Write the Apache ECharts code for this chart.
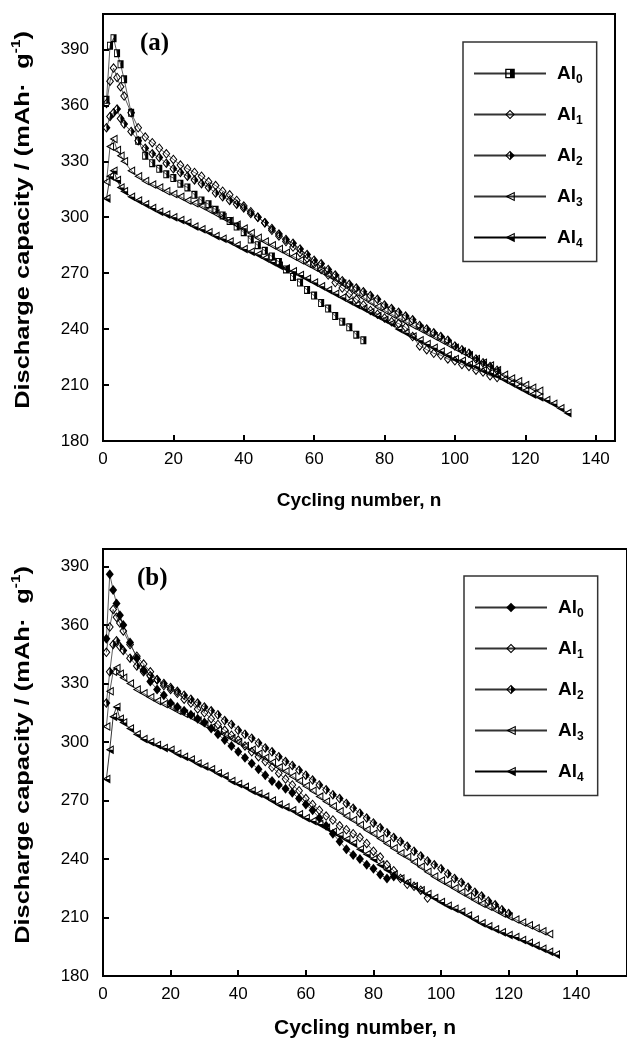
<!DOCTYPE html>
<html>
<head>
<meta charset="utf-8">
<script src="https://cdn.jsdelivr.net/npm/echarts@6/dist/echarts.min.js"></script>
<style>html,body{margin:0;padding:0;background:#fff;}#c{width:627px;height:1044px;}</style>
</head>
<body>
<div id="c"></div>
<script>
// ---- data ----
const cycles = [1,2,3,4,5,6,8,10,12,14,16,18,20,22,24,26,28,30,32,34,36,38,40,42,44,46,48,50,52,54,56,58,60,62,64,66,68,70,72,74,76,78,80,82,84,86,88,90,92,94,96,98,100,102,104,106,108,110,112,114,116,118,120,122,124,126,128,130,132,134];
const seriesNames = ['Al0','Al1','Al2','Al3','Al4'];
const yTicks = [180,210,240,270,300,330,360,390];
const xTicks = [0,20,40,60,80,100,120,140];

// panel (a)
const a_Al0 = [363,392,396,388,382,374,356,341,333,329,326,323,321,318,316,312,309,307,304,301,298,295,292,288,285,282,279,276,272,268,265,261,258,254,251,247,244,241,237,234];
const a_Al1 = [361,373,380,375,370,365,356,348,343,340,337,334,331,328,326,324,322,319,317,314,312,309,306,303,300,297,293,290,287,284,281,278,275,272,269,265,262,259,256,253,250,248,246,244,243,241,236,231,229,227,226,224,223,221,220,218,217,215,214];
const a_Al2 = [348,354,356,358,353,350,346,341,337,334,332,329,326,324,322,320,318,316,313,311,309,307,305,302,300,297,294,291,288,286,283,280,277,275,272,269,266,264,262,260,258,256,253,251,249,247,245,242,240,238,236,234,231,229,227,224,222,220,218];
const a_Al3 = [319,338,342,336,333,330,325,322,319.5,317.5,316,314,312.5,311,309,307.5,306,304,302,300,298,296,294,291.5,289,287,285,283,281,279,277,275,273,271,269,267,264.5,262,259.5,257,254.5,252,250,248,246,244,242,240,238,236,234,232,230,228,226,224,222,220.5,218,215.5,213.5,212,210,208.5,207];
const a_Al4 = [310,322,325,320,316,314,311,309,307,305,303,301.5,300,298.5,297,295,293.5,292,290,288.5,287,285,283,281.5,280,278,276,274,272.5,271,269,267,265,263,261,259,257,255,253,251,249,247,245,243,240,238,236,234,232,230,228,226,224,223,221,220,218,216.5,215,213,211,209,207,205,203.5,202,200,197.5,195];

// panel (b)
const b_Al0 = [353,386,378,371,365,360,351,343,337,331,327,324,320,318,316,314,312,310,307,304,301,298,295,292,289,286,283,280,278,276,274,271,268,265,261,257,253,249,245,242,240,237,235,232,230,231];
const b_Al1 = [346,359,368,364,361,357,350,344,340,336,332,329,327,325,322,320,317,315,312,309,306,303.5,301,298,295,292.5,290,287,284,281,278,275,271,268,265,262,260,257,255,253,251,248,244,241,237,234,230,227,226,224,220];
const b_Al2 = [320,336,350,352,349,347,343,339,336,334,332,330,328,326,324,322,320,318,316,314,311,309,306,304,302,299.5,297,295,292.5,290,288,285.5,283,280.5,278,275.5,273,271,268.5,266,263.5,261,258.5,256,253.5,251,249,246.5,244,241.5,239,237,235,232.5,230,228,225.5,223,221,218.5,216.5,214,212];
const b_Al3 = [308,326,336,338,335,333,330,327,325,323,321,319.5,318,316,314.5,313,311,309,307.5,306,304,302,300,298,296,294,292,289.5,287,285,282.5,280,277.5,275,272,269.5,267,264.5,262,260,257.5,255,253,250.5,248,245.5,243,241,238.5,236,233.5,231,229,227,225,223,221,219,217,215.5,214,212,210.5,209,207.5,206,204.5,203,201.5];
const b_Al4 = [281,296,313,318,312,310,307,304,301.5,300,298.5,297,296,294,292.5,291,289,287.5,286,284,282.5,280,278.5,277,275,273.5,272,270,268,266.5,265,263,261,259.5,258,256,254,252,250,248,245,242.5,240,237,234.5,232,230,228,226,224,222,220,218,216,214.5,213,211,209,207,205.5,204,202.5,201,200,198.5,197,195.5,194,192.5,191];

// ---- symbols ----
const SQ_HALF = 'path://M0 0L100 0L100 100L0 100Z M14 14L14 86L86 86L86 14Z M50 14L86 14L86 86L50 86Z';
const DIA_OPEN = 'path://M50 0L100 50L50 100L0 50Z M50 16L16 50L50 84L84 50Z';
const DIA_HALF = DIA_OPEN + ' M50 16L84 50L50 84Z';
const TRI_OPEN = 'path://M0 50L100 0L100 100Z M27 50L88 80.5L88 19.5Z';
const TRI_HALF = TRI_OPEN + ' M27 50L88 50L88 80.5Z';

function pts(vals){ return vals.map((v,i)=>[cycles[i], v]); }

const FONT = 'Liberation Sans';

function mkSeries(id, vals, gi, symbol, size, lineColor){
  return {
    type:'line', name:id, xAxisIndex:gi, yAxisIndex:gi,
    data:pts(vals), symbol:symbol, symbolSize:size,
    showSymbol:true, showAllSymbol:true,
    itemStyle:{color:'#000', borderWidth:0},
    lineStyle:{color:lineColor, width:0.8},
    emphasis:{disabled:true}, animation:false, silent:true
  };
}

const series = [
  mkSeries('a0', a_Al0, 0, SQ_HALF, [6,8], '#333'),
  mkSeries('a1', a_Al1, 0, DIA_OPEN, [8,10], '#333'),
  mkSeries('a2', a_Al2, 0, DIA_HALF, [8,10], '#333'),
  mkSeries('a3', a_Al3, 0, TRI_OPEN, [8,9], '#333'),
  mkSeries('a4', a_Al4, 0, TRI_HALF, [8,9], '#000'),
  mkSeries('b0', b_Al0, 1, 'diamond', [8,10], '#333'),
  mkSeries('b1', b_Al1, 1, DIA_OPEN, [8,10], '#333'),
  mkSeries('b2', b_Al2, 1, DIA_HALF, [8,10], '#333'),
  mkSeries('b3', b_Al3, 1, TRI_OPEN, [8,9], '#333'),
  mkSeries('b4', b_Al4, 1, TRI_HALF, [8,9], '#000')
];

function xAx(gi, max, nameSize, nameGap){
  return {
    type:'value', gridIndex:gi, min:0, max:max, interval:20,
    axisLine:{show:true, lineStyle:{color:'#000', width:2}},
    axisTick:{show:true, inside:true, length:6, lineStyle:{color:'#000', width:2}},
    axisLabel:{color:'#000', fontSize:17, fontFamily:FONT, margin:10, showMaxLabel:false,
      formatter:v=> xTicks.indexOf(v)>=0 ? String(v) : ''},
    splitLine:{show:false},
    name:'Cycling number, n', nameLocation:'middle', nameGap:nameGap,
    nameTextStyle:{color:'#000', fontSize:nameSize, fontWeight:'bold', fontFamily:FONT}
  };
}
function yAx(gi, max){
  return {
    type:'value', gridIndex:gi, min:180, max:max, interval:30,
    axisLine:{show:true, lineStyle:{color:'#000', width:2}},
    axisTick:{show:true, inside:true, length:6, lineStyle:{color:'#000', width:2}},
    axisLabel:{color:'#000', fontSize:17, fontFamily:FONT, margin:14, showMaxLabel:false,
      formatter:v=> yTicks.indexOf(v)>=0 ? String(v) : ''},
    splitLine:{show:false}
  };
}

function legend(prefix, left, top){
  return {
    show:true, orient:'vertical', left:left, top:top,
    data: seriesNames.map((n,i)=>prefix+i),
    itemWidth:72, itemHeight:12, itemGap:19.5,
    padding:[22,14,12,10],
    borderColor:'#333', borderWidth:1.5, backgroundColor:'#fff',
    selectedMode:false,
    formatter: name => '{a|Al}{s|' + name.slice(1) + '}',
    textStyle:{rich:{
      a:{fontSize:19, fontWeight:'bold', fontFamily:FONT, color:'#000', padding:[0,0,0,6], lineHeight:24},
      s:{fontSize:12, fontWeight:'bold', fontFamily:FONT, color:'#000', verticalAlign:'bottom', lineHeight:12}
    }}
  };
}

const yTitleText = '{t|Discharge capacity / (mAh·  g}{s|-1}{t|)}';
const yTitleRich = {
  t:{fill:'#000', fontSize:20, fontWeight:'bold', fontFamily:FONT, lineHeight:24},
  s:{fill:'#000', fontSize:12, fontWeight:'bold', fontFamily:FONT, verticalAlign:'top', lineHeight:24}
};
function yTitle(cx, cy){
  return {type:'text', x:cx, y:cy, rotation:Math.PI/2, scaleX:1.27, scaleY:1,
    style:{text:yTitleText, rich:yTitleRich, align:'center', verticalAlign:'middle'}};
}

const chart = echarts.init(document.getElementById('c'), null, {renderer:'canvas'});
chart.setOption({
  animation:false,
  backgroundColor:'#fff',
  grid:[
    {left:103, top:14, width:512, height:427, show:true, borderColor:'#000', borderWidth:2, backgroundColor:'transparent'},
    {left:103, top:549, width:528, height:427, show:true, borderColor:'#000', borderWidth:2, backgroundColor:'transparent'}
  ],
  xAxis:[ xAx(0,145.5,19,50), xAx(1,155,21,42) ],
  yAxis:[ yAx(0,409), yAx(1,399) ],
  legend:[ legend('a',463,42), legend('b',464,576) ],
  graphic:[
    {type:'text', left:140, top:31, style:{text:'(a)', font:'bold 25px "Liberation Serif"', fill:'#000'}},
    {type:'text', left:137, top:566, style:{text:'(b)', font:'bold 25px "Liberation Serif"', fill:'#000'}},
    yTitle(23, 220),
    yTitle(23, 755)
  ],
  series:series
});
</script>
</body>
</html>
